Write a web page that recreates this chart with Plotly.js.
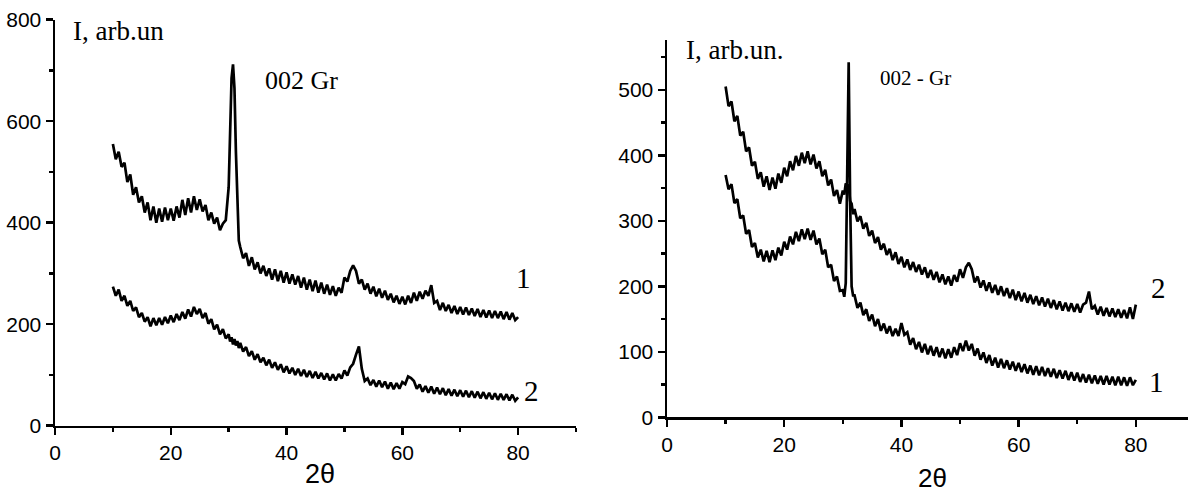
<!DOCTYPE html>
<html>
<head>
<meta charset="utf-8">
<script src="https://cdn.plot.ly/plotly-3.0.1.min.js"></script>
<style>html,body{margin:0;padding:0;background:#fff;}#chart{width:1188px;height:495px;}</style>
</head>
<body>
<div id="chart"></div>
<script>
// Shared 2-theta grid (degrees)
const twoTheta = [
  10,10.5,11,11.5,12,12.5,13,13.5,14,14.5,
  15,15.5,16,16.5,17,17.5,18,18.5,19,19.5,
  20,20.5,21,21.5,22,22.5,23,23.5,24,24.5,
  25,25.5,26,26.5,27,27.5,28,28.5,29,29.5,
  30,30.25,30.5,30.75,31,31.25,31.5,31.75,
  32,32.5,33,33.5,34,34.5,35,35.5,36,36.5,
  37,37.5,38,38.5,39,39.5,40,40.5,41,41.5,
  42,42.5,43,43.5,44,44.5,45,45.5,46,46.5,
  47,47.5,48,48.5,49,49.5,50,50.5,51,51.5,
  52,52.5,53,53.5,54,54.5,55,55.5,56,56.5,
  57,57.5,58,58.5,59,59.5,60,60.5,61,61.5,
  62,62.5,63,63.5,64,64.5,65,65.5,66,66.5,
  67,67.5,68,68.5,69,69.5,70,70.5,71,71.5,
  72,72.5,73,73.5,74,74.5,75,75.5,76,76.5,
  77,77.5,78,78.5,79,79.5,80
];

// Left panel, curve 1
const left1 = [
  555,525,540,510,518,480,495,455,470,440,
  452,420,440,405,432,400,428,402,430,405,
  428,404,432,410,445,415,448,420,452,425,
  446,422,435,405,420,398,410,385,398,405,
  470,580,685,712,665,540,430,365,
  352,330,340,315,332,308,322,300,315,295,
  310,288,308,285,305,282,302,280,298,278,
  295,272,292,268,288,265,286,262,282,260,
  278,258,275,256,272,262,292,284,305,316,
  305,280,288,268,280,260,274,255,270,252,
  266,248,260,243,256,240,254,239,256,242,
  262,246,264,250,266,256,277,242,246,228,
  242,226,238,222,236,220,234,219,233,218,
  231,216,230,214,228,213,227,212,226,212,
  225,210,224,209,222,208,214
];

// Left panel, curve 2
const left2 = [
  274,256,268,246,256,236,246,226,233,214,
  222,205,214,196,212,198,212,199,214,202,
  217,204,220,208,224,211,229,215,234,220,
  230,212,222,201,210,190,199,180,190,172,
  180,166,174,160,171,158,167,153,
  163,146,155,137,147,130,141,125,134,119,
  130,114,125,110,121,105,117,103,114,100,
  112,98,110,96,108,94,106,93,104,91,
  103,89,101,89,102,93,109,99,115,122,
  140,156,112,88,93,80,90,77,89,76,
  87,73,85,72,84,73,86,82,97,94,
  88,73,81,67,78,65,77,63,75,62,
  74,60,72,59,71,58,70,57,69,56,
  68,55,67,54,66,53,65,52,64,51,
  63,51,62,50,61,49,56
];

// Right panel, curve 2 (upper)
const right2 = [
  505,475,482,452,460,430,436,406,412,384,
  390,364,374,352,368,347,366,349,372,358,
  381,368,391,377,399,384,404,388,406,386,
  401,380,391,368,378,354,363,338,347,326,
  346,340,357,353,354,330,326,310,
  318,299,307,288,297,277,285,266,275,256,
  265,248,257,240,252,234,245,229,241,225,
  237,222,233,218,229,213,225,210,222,206,
  218,203,215,201,217,207,226,213,229,236,
  226,206,215,198,209,193,206,190,202,187,
  200,185,197,182,195,179,192,177,190,175,
  187,173,185,171,183,169,181,167,179,165,
  177,163,175,162,174,161,173,160,172,175,
  192,165,170,157,169,155,167,154,166,153,
  165,152,164,151,168,150,172
];

// Right panel, curve 1 (lower)
const right1 = [
  370,348,356,327,333,304,308,280,286,260,
  266,244,256,238,254,237,255,240,259,247,
  268,256,276,264,283,269,287,272,288,271,
  285,264,273,249,256,229,233,208,215,193,
  194,184,205,380,542,330,200,186,
  186,167,175,156,165,147,157,139,150,132,
  143,128,139,124,135,124,144,126,130,111,
  121,104,115,99,112,96,109,94,107,92,
  105,90,104,91,107,95,113,101,117,102,
  112,94,105,88,99,83,95,79,91,76,
  89,75,87,73,85,71,83,69,81,67,
  79,65,78,64,77,63,75,62,74,60,
  72,59,71,57,69,56,68,54,66,53,
  65,52,64,51,63,50,63,50,62,49,
  62,49,61,48,61,49,57
];

const leftTicks = [0, 20, 40, 60, 80];
const rightTicks = [0, 20, 40, 60, 80];

const W = 1188, H = 495;
const px = v => v / W;
const py = v => 1 - v / H;

const lineStyle = {color: 'black', width: 2.7};

const traces = [
  {x: twoTheta, y: left1, type: 'scatter', mode: 'lines', line: lineStyle, xaxis: 'x', yaxis: 'y', hoverinfo: 'skip'},
  {x: twoTheta, y: left2, type: 'scatter', mode: 'lines', line: lineStyle, xaxis: 'x', yaxis: 'y', hoverinfo: 'skip'},
  {x: twoTheta, y: right2, type: 'scatter', mode: 'lines', line: lineStyle, xaxis: 'x2', yaxis: 'y2', hoverinfo: 'skip'},
  {x: twoTheta, y: right1, type: 'scatter', mode: 'lines', line: lineStyle, xaxis: 'x2', yaxis: 'y2', hoverinfo: 'skip'}
];

const tickFont = {family: 'Liberation Sans, Arial, sans-serif', size: 21, color: 'black'};
const minorTick = {ticks: 'outside', ticklen: 4, tickwidth: 2.5, tickcolor: 'black'};
function axis(extra) {
  return Object.assign({
    showgrid: false, zeroline: false, showline: true,
    linecolor: 'black', linewidth: 2.5,
    ticks: 'outside', ticklen: 7, tickwidth: 2.5, tickcolor: 'black',
    tickfont: tickFont, fixedrange: true
  }, extra);
}

const serif = 'Liberation Serif, Times New Roman, serif';
const sans = 'Liberation Sans, Arial, sans-serif';
function note(text, x, y, size, family, xanchor) {
  return {text: text, x: px(x), y: py(y), xref: 'paper', yref: 'paper',
    showarrow: false, xanchor: xanchor || 'center', yanchor: 'middle',
    font: {family: family, size: size, color: 'black'}};
}

const layout = {
  width: W, height: H,
  margin: {l: 0, r: 0, t: 0, b: 0},
  paper_bgcolor: 'white', plot_bgcolor: 'white',
  showlegend: false,
  xaxis: axis({domain: [px(55), px(576)], range: [0, 90], tickvals: leftTicks,
    minor: Object.assign({dtick: 10, tick0: 0}, minorTick), anchor: 'y'}),
  yaxis: axis({domain: [py(425.7), py(19.7)], range: [0, 800], dtick: 200, tick0: 0,
    minor: Object.assign({dtick: 100, tick0: 0}, minorTick), anchor: 'x'}),
  xaxis2: axis({domain: [px(667), 1], range: [0, 88.9], tickvals: rightTicks,
    minor: Object.assign({dtick: 10, tick0: 0}, minorTick), anchor: 'y2'}),
  yaxis2: axis({domain: [py(417.3), py(40)], range: [0, 576], dtick: 100, tick0: 0,
    minor: Object.assign({dtick: 50, tick0: 0}, minorTick), anchor: 'x2'}),
  annotations: [
    note('I, arb.un', 71, 31, 27, serif, 'left'),
    note('002 Gr', 263, 80, 26, serif, 'left'),
    note('1', 523, 278, 29, serif),
    note('2', 531, 391, 29, serif),
    note('2θ', 320, 474, 27, sans),
    note('I, arb.un.', 684, 50, 27, serif, 'left'),
    note('002 - Gr', 878, 78, 21, serif, 'left'),
    note('2', 1158, 288, 29, serif),
    note('1', 1156, 382, 29, serif),
    note('2θ', 932, 478, 26, sans)
  ]
};

Plotly.newPlot('chart', traces, layout, {staticPlot: true, displayModeBar: false});
</script>
</body>
</html>
